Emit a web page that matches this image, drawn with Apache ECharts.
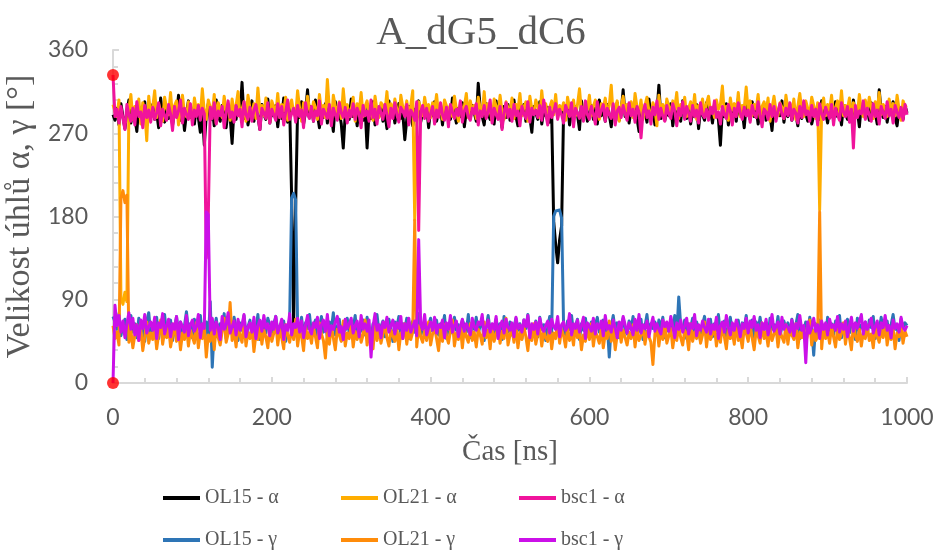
<!DOCTYPE html>
<html>
<head>
<meta charset="utf-8">
<script src="https://cdn.jsdelivr.net/npm/echarts@6/dist/echarts.min.js"></script>
<style>html,body{margin:0;padding:0;background:#fff;}#c{width:935px;height:555px;}</style>
</head>
<body>
<div id="c"></div>
<script>
// Sampling grid: one reading every 2.5 ns from 0 ns
const timeStart = 0;
const timeStep = 2.5;

const seriesNames = ['OL15 - α', 'OL21 - α', 'bsc1 - α', 'OL15 - γ', 'OL21 - γ', 'bsc1 - γ'];
const xTicks = [0, 200, 400, 600, 800, 1000];
const yTicks = [0, 90, 180, 270, 360];

const ol15Alpha = [
290,284,297,279,302,288,275,293,306,281,295,287,272,299,290,283,304,278,296,289,
301,285,292,276,308,290,282,297,286,303,279,294,288,311,284,298,273,291,305,287,
296,280,299,287,271,293,257,290,302,284,297,278,306,289,283,300,291,276,295,288,
259,297,285,303,290,325,286,298,279,292,305,283,296,288,274,301,290,285,307,281,
294,289,300,277,296,286,308,291,282,299,200,65,190,296,287,304,280,293,317,288,
299,283,306,290,276,295,287,302,281,297,289,272,304,286,293,280,254,291,299,285,
307,288,295,278,301,290,284,298,254,293,286,304,279,296,288,300,283,292,275,305,
289,297,281,294,302,286,291,263,285,299,290,278,296,287,305,282,293,288,300,276,
295,289,304,283,292,298,279,301,287,294,285,308,290,281,297,288,303,277,294,290,
286,300,292,283,324,297,288,279,302,291,285,296,280,305,289,294,276,299,287,301,
284,293,306,288,278,296,290,301,283,295,287,271,299,292,285,304,280,294,289,298,
282,291,175,150,130,155,170,295,288,302,279,293,286,299,290,274,305,287,296,283,
292,300,285,297,280,306,289,294,283,301,290,277,296,287,303,284,293,317,288,299,
281,295,290,304,286,272,298,289,293,282,307,288,296,279,291,322,286,300,284,295,
289,302,278,294,287,299,283,305,291,286,297,280,293,288,301,275,296,290,284,303,
287,294,281,299,290,285,257,296,288,302,279,293,286,298,283,307,289,294,276,300,
291,285,304,288,296,280,293,287,301,284,297,290,273,299,286,294,289,305,282,296,
288,301,284,293,290,278,298,286,303,291,283,296,280,289,294,299,285,305,287,292,
281,297,290,286,304,288,295,279,300,292,285,298,283,306,289,294,277,301,290,287,
296,284,303,289,292,280,317,293,287,299,282,295,290,304,286,278,297,291,285,300,
292
];
const ol21Alpha = [
301,293,288,306,92,85,98,88,296,312,285,299,291,307,280,303,295,262,310,289,
298,316,287,302,294,283,309,297,290,314,286,300,305,279,296,311,292,288,304,297,
283,308,295,301,289,318,293,285,306,298,290,312,281,303,296,287,310,294,299,284,
307,292,300,315,288,296,304,283,311,297,291,302,286,319,293,300,289,308,295,282,
305,298,290,313,287,301,294,309,284,299,306,292,288,316,297,283,303,291,310,296,
289,304,298,285,312,293,300,287,328,295,281,311,299,290,304,286,318,294,301,288,
296,309,283,302,292,314,288,299,305,291,297,284,310,295,287,303,300,293,315,286,
302,290,307,296,284,311,298,293,305,288,300,316,176,279,304,297,289,309,295,301,
287,303,294,312,290,298,285,306,306,293,301,288,310,296,283,304,292,299,313,287,
305,294,300,286,309,297,291,315,288,302,295,283,307,299,290,311,293,285,304,297,
292,308,286,301,295,313,289,298,304,283,310,296,291,306,299,287,316,294,302,288,
298,305,290,312,287,300,295,303,284,309,297,292,306,289,301,318,293,286,304,296,
311,289,299,306,294,285,302,297,308,291,300,322,288,296,305,283,299,310,292,301,
295,304,287,313,298,291,306,285,300,309,294,288,303,297,278,311,292,301,287,307,
299,290,305,296,314,286,301,293,309,288,297,304,291,312,285,300,295,307,289,302,
310,293,298,287,306,296,301,321,290,299,284,308,295,302,291,314,288,300,297,320,
293,305,289,301,296,312,287,299,304,292,308,283,297,310,294,289,303,298,286,311,
296,302,290,307,285,299,313,294,288,305,297,291,309,300,286,303,187,295,308,289,
301,294,311,287,298,305,292,316,289,300,296,308,284,303,297,290,312,295,288,306,
293,309,298,286,304,295,314,290,301,297,288,307,294,302,289,311,296,284,305,299,
298
];
const bsc1Alpha = [
333,288,296,281,299,286,274,301,290,283,297,279,304,288,293,276,300,287,295,282,
298,285,292,303,278,296,289,284,301,291,273,299,287,294,306,281,297,290,285,302,
279,295,288,300,284,297,291,135,180,298,286,303,280,294,289,299,276,292,305,287,
293,282,300,289,296,277,304,290,285,298,283,295,301,288,274,297,292,286,303,281,
296,290,284,302,287,299,279,293,306,285,291,297,282,300,288,295,276,303,290,286,
299,283,294,289,305,280,296,291,286,301,278,297,290,284,303,292,287,298,281,295,
288,302,285,297,291,276,300,289,294,283,306,287,296,280,299,292,285,301,290,277,
297,286,303,290,282,298,294,288,301,279,295,291,284,304,165,293,300,286,297,283,
291,299,280,295,287,303,290,284,298,277,301,293,286,296,289,305,282,294,299,288,
284,297,291,302,279,294,288,300,286,293,306,281,297,290,285,299,274,292,303,287,
296,283,301,289,294,278,299,291,286,304,282,297,290,295,287,300,284,306,291,279,
298,287,293,302,285,296,290,281,300,294,288,303,277,297,292,286,299,283,305,290,
285,299,291,280,304,288,295,301,283,297,290,286,302,279,294,298,287,300,291,284,
303,289,296,282,299,293,265,292,301,287,294,280,298,290,305,285,297,288,283,300,
291,286,302,294,278,297,289,304,285,299,292,283,300,288,295,281,303,290,287,296,
284,298,291,305,287,293,280,299,290,286,301,294,279,297,288,303,292,285,298,289,
295,282,300,291,287,304,290,277,296,293,285,301,288,299,283,294,302,290,286,297,
289,303,284,296,292,281,299,287,305,290,294,283,300,288,296,279,302,291,285,298,
292,286,301,279,297,290,284,303,293,288,299,282,296,254,300,287,294,291,305,285,
297,290,283,302,288,295,280,299,292,286,304,289,296,281,300,293,287,298,284,301,
290
];
const ol15Gamma = [
72,66,58,75,51,63,69,47,60,73,55,64,49,70,58,62,45,67,76,53,
61,57,71,48,65,59,74,52,63,68,46,60,72,55,66,50,62,77,57,64,
49,69,56,63,73,51,60,66,47,88,17,58,70,53,64,59,75,48,62,67,
55,71,60,46,65,57,73,52,61,68,50,63,58,74,47,66,59,54,70,62,
48,64,72,56,61,53,67,45,60,69,200,205,198,63,57,71,50,65,59,74,
53,62,68,47,60,72,55,64,50,66,58,76,52,61,69,46,63,57,70,54,
65,59,73,49,62,56,68,52,71,60,47,64,58,74,55,61,67,50,63,69,
57,45,66,60,72,53,64,58,70,48,62,67,55,61,75,51,59,65,47,63,
70,56,61,68,52,64,59,73,48,60,66,54,71,57,63,50,68,62,55,74,
49,65,58,71,54,62,67,46,60,73,56,63,51,69,58,64,47,72,60,55,
66,52,61,70,57,64,48,68,59,74,53,62,56,67,50,71,58,63,46,60,
72,55,180,186,184,187,178,61,50,67,58,73,54,62,69,47,64,57,70,52,
60,66,48,63,71,55,59,68,51,64,28,61,73,56,65,49,62,70,57,53,
67,58,72,50,63,56,69,47,61,74,54,64,59,66,52,68,60,71,49,62,
56,65,59,73,51,93,62,57,68,48,64,60,70,53,66,58,45,63,72,55,
61,69,50,64,57,74,52,62,67,47,60,71,55,63,58,68,51,65,59,73,
54,62,68,49,66,57,71,53,60,64,47,70,58,63,56,72,50,61,67,59,
65,52,69,58,63,74,48,61,57,66,55,71,60,30,64,53,68,59,62,50,
71,57,64,52,67,60,73,49,62,58,69,54,65,61,47,70,56,63,59,66,
53,68,60,72,48,64,57,71,55,62,67,50,63,74,58,61,46,69,60,65,
62
];
const ol21Gamma = [
62,48,55,41,200,208,195,203,44,57,38,52,63,46,59,35,50,66,43,54,
47,60,37,53,68,42,56,49,61,39,51,64,45,58,36,54,47,62,40,57,
50,43,65,38,55,48,61,28,52,45,59,36,63,49,41,56,70,44,53,87,
46,58,39,62,51,44,67,40,55,48,60,34,53,47,64,42,57,50,38,61,
45,54,66,41,58,49,37,63,52,44,59,47,69,40,56,51,35,62,48,55,
43,60,50,38,65,53,46,27,57,42,61,49,36,58,52,45,67,40,54,48,
63,39,56,47,60,44,52,68,41,55,50,37,62,46,58,43,53,65,49,40,
57,51,45,61,36,54,48,64,42,59,47,55,176,39,62,50,44,57,46,66,
41,53,60,48,35,58,45,63,51,43,56,68,40,54,47,61,38,59,50,44,
64,46,55,39,58,52,42,66,49,57,37,61,45,53,60,43,56,48,70,41,
52,59,44,63,38,55,47,61,50,35,57,46,64,42,53,60,40,56,49,45,
62,37,54,48,66,43,58,51,39,60,46,55,41,63,49,57,36,52,45,59,
47,64,40,56,50,43,61,38,54,48,67,45,59,36,52,62,44,57,49,41,
55,48,63,39,58,46,52,60,42,56,50,44,20,53,61,40,57,47,65,43,
51,59,38,54,46,62,49,41,57,53,36,64,45,55,48,60,43,52,66,39,
58,47,53,61,40,56,44,63,50,37,59,48,55,42,67,46,52,38,60,54,
45,62,49,36,57,51,43,65,48,55,40,59,46,53,61,39,56,50,44,63,
42,58,52,47,64,38,55,49,60,44,53,68,41,57,46,50,185,37,62,48,
56,43,61,50,39,59,47,54,65,42,57,49,36,63,51,45,58,40,55,48,
62,46,53,38,60,51,44,57,49,66,41,55,47,59,37,54,50,63,43,56,
50
];
const bsc1Gamma = [
0,84,62,73,55,67,49,64,76,58,70,52,63,46,68,59,74,54,61,66,
57,71,48,65,60,75,53,62,69,50,64,58,72,47,66,61,55,73,51,63,
68,56,61,74,49,64,59,185,182,57,70,53,66,60,47,72,58,63,76,54,
61,67,52,69,57,63,74,50,60,65,55,71,48,62,68,56,73,59,64,51,
66,58,72,54,61,69,47,63,57,75,52,64,60,70,55,67,49,62,73,58,
53,65,60,71,48,63,68,56,74,51,62,58,66,72,55,61,47,69,59,64,
70,54,62,67,50,73,58,64,56,68,28,61,75,57,63,49,66,60,71,55,
62,68,53,65,59,72,48,64,57,70,55,61,67,51,155,63,58,74,52,60,
66,57,71,54,63,60,68,49,65,58,73,55,62,67,50,61,69,56,64,59,
52,70,61,57,66,63,74,51,60,68,55,64,58,72,48,62,67,54,69,60,
57,65,50,71,59,63,55,68,61,73,49,64,58,66,53,70,60,56,62,67,
54,69,61,58,72,50,63,66,57,60,75,52,64,59,68,55,62,71,48,65,
61,56,70,53,64,59,67,51,73,58,62,55,68,60,49,66,57,72,63,54,
65,60,52,69,57,74,54,63,59,67,50,62,71,56,64,58,53,68,61,66,
56,72,61,49,65,58,68,55,62,70,53,64,59,74,51,63,57,67,60,55,
69,53,63,58,71,48,62,66,55,73,60,52,65,57,68,61,50,64,59,70,
54,67,60,72,57,63,49,65,58,69,52,62,74,56,61,66,53,71,58,63,
60,55,68,51,64,59,73,57,62,22,66,54,61,70,56,63,48,67,58,65,
52,69,60,63,57,72,55,64,58,67,50,62,71,56,65,59,61,74,53,66,
58,63,70,54,61,67,52,65,60,73,57,62,49,68,59,64,55,71,60,57,
62
];
// Highlighted start points (red markers)
const startPointTimes = [0, 0];
const startPointValues = [333, 0];

const seriesValues = [ol15Alpha, ol21Alpha, bsc1Alpha, ol15Gamma, ol21Gamma, bsc1Gamma];
const seriesColors = ['#000000', '#FFAD00', '#F0149C', '#2E75B6', '#FF8C0A', '#CB10E8'];

const toPairs = vals => vals.map((v, i) => [timeStart + i * timeStep, v]);

const grey = '#595959';
const axisGrey = '#d9d9d9';

const series = seriesNames.map((name, k) => ({
  name: name,
  type: 'line',
  data: toPairs(seriesValues[k]),
  showSymbol: false,
  symbol: 'none',
  lineStyle: { width: 3, color: seriesColors[k], join: 'round' },
  itemStyle: { color: seriesColors[k] },
  z: 2 + k
}));
series.push({
  name: 'start',
  type: 'scatter',
  data: startPointTimes.map((t, i) => [t, startPointValues[i]]),
  symbolSize: 12,
  itemStyle: { color: '#FF0000' },
  z: 20
});

const legendCols = [163, 341, 519];
const legendRows = [488, 530];
const legends = seriesNames.map((name, k) => ({
  data: [name],
  left: legendCols[k % 3],
  top: legendRows[Math.floor(k / 3)],
  icon: 'rect',
  itemWidth: 37,
  itemHeight: 4,
  itemGap: 0,
  textStyle: { fontFamily: 'Liberation Serif', fontSize: 20, color: grey },
  padding: 0
}));

const bad = seriesValues.some(a => a.length !== 401);

const chart = echarts.init(document.getElementById('c'), null, { renderer: 'canvas' });
chart.setOption({
  animation: false,
  backgroundColor: '#ffffff',
  title: {
    text: 'A_dG5_dC6',
    left: 476,
    top: 8,
    textAlign: 'center',
    textStyle: { fontFamily: 'Liberation Serif', fontSize: 41, fontWeight: 'normal', color: grey }
  },
  graphic: bad ? [{ type: 'text', left: 10, top: 10, style: { text: 'LEN ' + seriesValues.map(a => a.length).join(','), fill: 'red', fontSize: 14 } }] : [],
  legend: legends,
  grid: { left: 113, right: 28, top: 50, bottom: 172, containLabel: false, outerBoundsMode: 'none' },
  xAxis: {
    type: 'value',
    min: xTicks[0],
    max: xTicks[xTicks.length - 1],
    interval: xTicks[1] - xTicks[0],
    name: 'Čas [ns]',
    nameLocation: 'middle',
    nameGap: 55,
    nameTextStyle: { fontFamily: 'Liberation Serif', fontSize: 29, color: grey },
    axisLine: { show: true, lineStyle: { color: axisGrey, width: 2 } },
    axisTick: { show: true, inside: true, length: 6, lineStyle: { color: axisGrey, width: 2 } },
    minorTick: { show: true, splitNumber: 5, length: 5, lineStyle: { color: axisGrey, width: 2 } },
    splitLine: { show: false },
    axisLabel: { fontFamily: 'Lato', fontSize: 23, color: grey, margin: 23, formatter: v => String(v) }
  },
  yAxis: {
    type: 'value',
    min: yTicks[0],
    max: yTicks[yTicks.length - 1],
    interval: yTicks[1] - yTicks[0],
    name: 'Velikost úhlů α, γ [°]',
    nameLocation: 'middle',
    nameRotate: 90,
    nameGap: 74,
    nameTextStyle: { fontFamily: 'Liberation Serif', fontSize: 34, color: grey },
    axisLine: { show: true, lineStyle: { color: axisGrey, width: 2 } },
    axisTick: { show: true, inside: true, length: 6, lineStyle: { color: axisGrey, width: 2 } },
    minorTick: { show: true, splitNumber: 5, length: 5, lineStyle: { color: axisGrey, width: 2 } },
    splitLine: { show: false },
    axisLabel: { fontFamily: 'Lato', fontSize: 23, color: grey, margin: 25, formatter: v => String(v) }
  },
  series: series
});
</script>
</body>
</html>
